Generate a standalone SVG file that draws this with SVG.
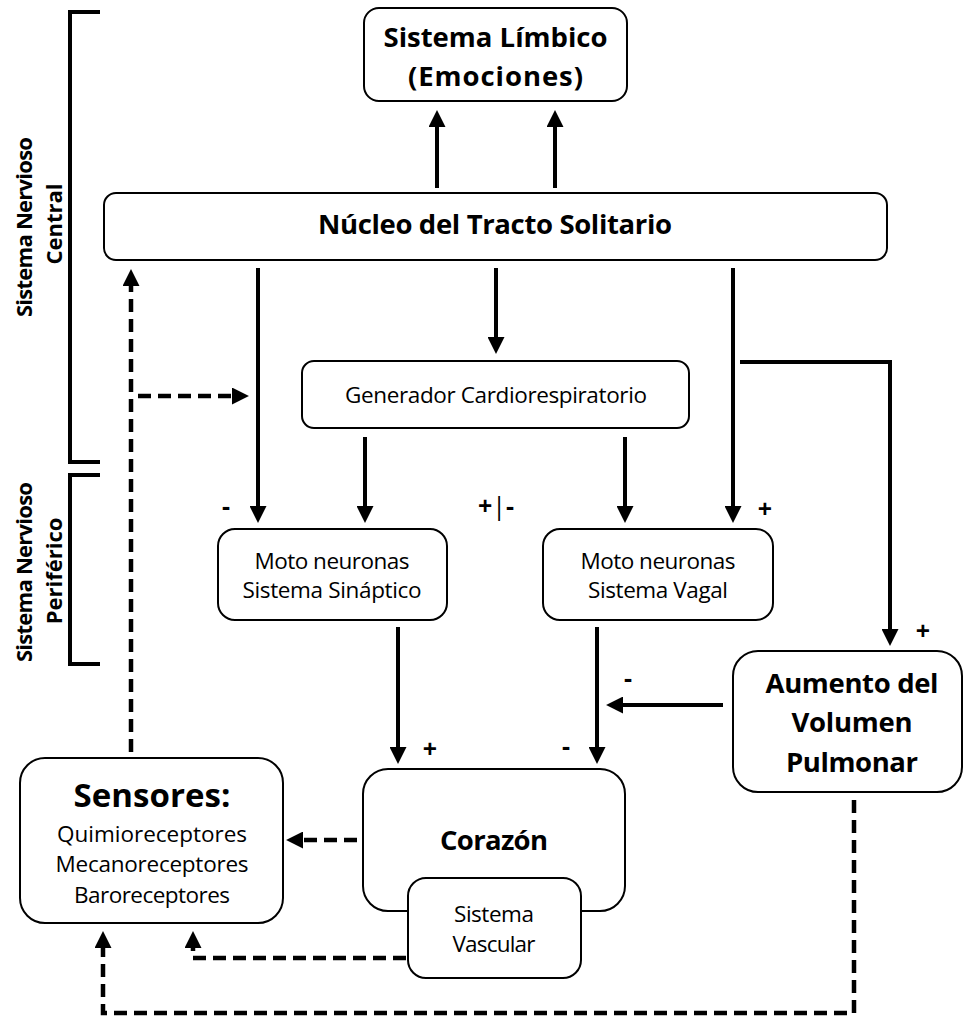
<svg xmlns="http://www.w3.org/2000/svg" width="966" height="1017" viewBox="0 0 966 1017">
<style>
.box{fill:#fff;stroke:#000;stroke-width:2}
.ln{stroke:#000;stroke-width:4;fill:none}
.dash{stroke:#000;stroke-width:4.5;fill:none;stroke-dasharray:13 7}
.br{stroke:#000;stroke-width:4;fill:none}
text{font-family:"Open Sans","Noto Sans","DejaVu Sans",sans-serif;text-anchor:middle;fill:#000}
.r{font-size:22.5px}
.b{font-size:27.5px;font-weight:bold}
.s{font-size:22px;font-weight:bold}
.lb{font-size:25px;font-weight:bold}
</style>
<defs>
<marker id="ah" viewBox="0 0 16 16" markerWidth="17" markerHeight="17" markerUnits="userSpaceOnUse" refX="1" refY="8" orient="auto">
<path d="M0,0 L16,8 L0,16 z" fill="#000"/>
</marker>
</defs>
<rect width="966" height="1017" fill="#fff"/>

<g id="brackets">
<path class="br" d="M100,12 H70 V462 H100"/>
<path class="br" d="M100,475 H70 V664 H100"/>
<text class="s" transform="translate(32,227) rotate(-90)" textLength="180">Sistema Nervioso</text>
<text class="s" transform="translate(62,224) rotate(-90)">Central</text>
<text class="s" transform="translate(32,572) rotate(-90)" textLength="180">Sistema Nervioso</text>
<text class="s" transform="translate(62,571) rotate(-90)">Periférico</text>
</g>

<g id="connectors">
<path class="ln" d="M437,188 V126" marker-end="url(#ah)"/>
<path class="ln" d="M555,188 V126" marker-end="url(#ah)"/>
<path class="ln" d="M258,268 V507" marker-end="url(#ah)"/>
<path class="ln" d="M496,268 V338" marker-end="url(#ah)"/>
<path class="ln" d="M733,268 V507" marker-end="url(#ah)"/>
<path class="ln" d="M740,362 H890 V630" marker-end="url(#ah)"/>
<path class="ln" d="M365,437 V507" marker-end="url(#ah)"/>
<path class="ln" d="M625,437 V507" marker-end="url(#ah)"/>
<path class="ln" d="M398,627 V748" marker-end="url(#ah)"/>
<path class="ln" d="M597,627 V748" marker-end="url(#ah)"/>
<path class="ln" d="M723,705 H622" marker-end="url(#ah)"/>
<path class="dash" d="M131,752 V285" marker-end="url(#ah)"/>
<path class="dash" d="M138,396 H233" marker-end="url(#ah)"/>
<path class="dash" d="M357,840 H302" marker-end="url(#ah)"/>
<path class="dash" d="M406,958 H193 V947" marker-end="url(#ah)"/>
<path class="dash" d="M854,800 V1013 H103 V947" marker-end="url(#ah)"/>
<text class="lb" x="226" y="515">-</text>
<text class="lb" x="765" y="518">+</text>
<text class="lb" x="496" y="515">+<tspan font-weight="normal">|</tspan>-</text>
<text class="lb" x="923" y="640">+</text>
<text class="lb" x="430" y="758">+</text>
<text class="lb" x="566" y="755">-</text>
<text class="lb" x="628" y="687">-</text>
</g>

<g id="limbico">
<rect class="box" x="364" y="8" width="263" height="93" rx="15"/>
<text class="b" x="495.5" y="47" font-size="28" textLength="224">Sistema Límbico</text>
<text class="b" x="495.5" y="86" font-size="28" textLength="175">(Emociones)</text>
</g>

<g id="nucleo">
<rect class="box" x="104" y="193" width="783" height="67" rx="12"/>
<text class="b" x="495" y="234" textLength="354">Núcleo del Tracto Solitario</text>
</g>

<g id="generador">
<rect class="box" x="302" y="361" width="387" height="67" rx="12"/>
<text class="r" x="496" y="403" textLength="302">Generador Cardiorespiratorio</text>
</g>

<g id="moto-sinaptico">
<rect class="box" x="218" y="529" width="229" height="91" rx="17"/>
<text class="r" x="332" y="569" textLength="155">Moto neuronas</text>
<text class="r" x="332" y="598" textLength="179">Sistema Sináptico</text>
</g>

<g id="moto-vagal">
<rect class="box" x="543" y="529" width="230" height="91" rx="17"/>
<text class="r" x="658" y="569" textLength="155">Moto neuronas</text>
<text class="r" x="658" y="598" textLength="140">Sistema Vagal</text>
</g>

<g id="aumento">
<rect class="box" x="733" y="651" width="229" height="141" rx="25"/>
<text class="b" x="852" y="693" textLength="173">Aumento del</text>
<text class="b" x="852" y="732" textLength="121">Volumen</text>
<text class="b" x="852" y="772" textLength="132">Pulmonar</text>
</g>

<g id="sensores">
<rect class="box" x="20" y="758" width="263" height="165" rx="25"/>
<text x="152" y="807" font-size="33" font-weight="bold" textLength="157">Sensores:</text>
<text class="r" x="152" y="842" textLength="190">Quimioreceptores</text>
<text class="r" x="152" y="872" textLength="193">Mecanoreceptores</text>
<text class="r" x="152" y="903" textLength="156">Baroreceptores</text>
</g>

<g id="corazon">
<rect class="box" x="363" y="769" width="262" height="142" rx="25"/>
<text class="b" x="494" y="850" textLength="108">Corazón</text>
</g>

<g id="vascular">
<rect class="box" x="408" y="878" width="173" height="100" rx="18"/>
<text class="r" x="494" y="922" textLength="80">Sistema</text>
<text class="r" x="494" y="952" textLength="83">Vascular</text>
</g>
</svg>
